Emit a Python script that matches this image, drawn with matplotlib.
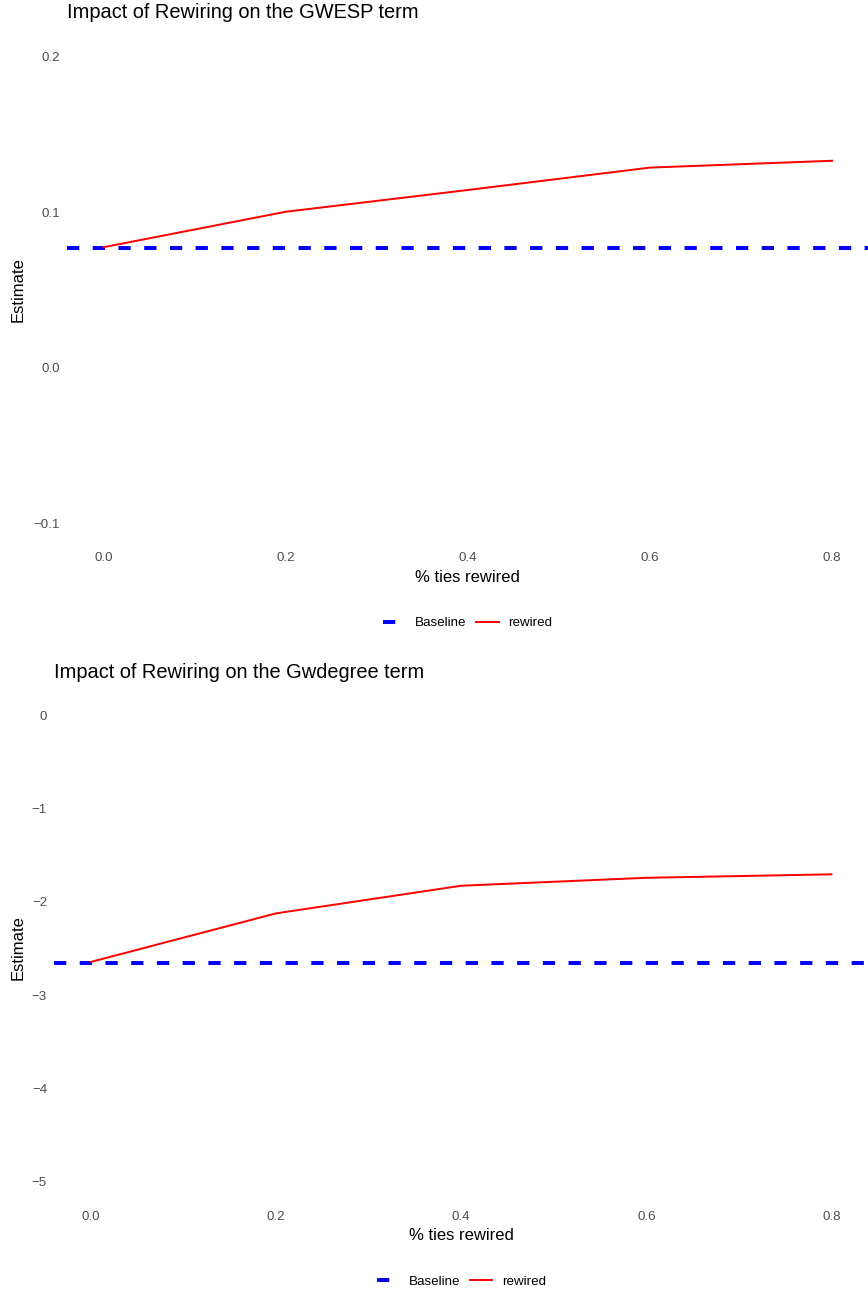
import matplotlib
matplotlib.use("Agg")
import matplotlib.pyplot as plt
from matplotlib.lines import Line2D

plt.rcParams["font.family"] = ["Liberation Sans", "DejaVu Sans"]

# Share of ties rewired
rewire_pct = [0.0, 0.2, 0.4, 0.6, 0.8]
x_ticks = [0.0, 0.2, 0.4, 0.6, 0.8]
x_ticklabels = ["0.0", "0.2", "0.4", "0.6", "0.8"]

# GWESP estimates
gwesp_rewired = [0.0775, 0.1003, 0.1143, 0.1287, 0.1331]
gwesp_baseline = 0.0767
gwesp_yticks = [-0.1, 0.0, 0.1, 0.2]
gwesp_yticklabels = ["\u22120.1", "0.0", "0.1", "0.2"]

# Gwdegree estimates
gwdeg_rewired = [-2.645, -2.125, -1.829, -1.744, -1.707]
gwdeg_baseline = -2.661
gwdeg_yticks = [-5, -4, -3, -2, -1, 0]
gwdeg_yticklabels = ["\u22125", "\u22124", "\u22123", "\u22122", "\u22121", "0"]

W, H = 868, 1291
fig = plt.figure(figsize=(W / 100, H / 100), dpi=100)
fig.patch.set_facecolor("white")

GREY30 = "#4D4D4D"
BASE_DASH = (3.1, 3.4)
TITLE_FS = 14.4
AXTITLE_FS = 12
TICK_FS = 9.6
LEGEND_FS = 9.6


def px_rect(left, top, right, bottom):
    return [left / W, 1 - bottom / H, (right - left) / W, (bottom - top) / H]


def draw_panel(box, title, title_y, ylab_y, xlab_y, leg_y, values, baseline,
               yticks, yticklabels, ylim):
    left, top, right, bottom = box
    ax = fig.add_axes(px_rect(left, top, right, bottom))
    ax.axhline(baseline, color="blue", lw=2.85, dashes=BASE_DASH,
               dash_capstyle="butt")
    ax.plot(rewire_pct, values, color="red", lw=1.42,
            solid_joinstyle="round")
    ax.set_xlim(-0.04, 0.84)
    ax.set_ylim(*ylim)
    ax.set_xticks(x_ticks)
    ax.set_xticklabels(x_ticklabels)
    ax.set_yticks(yticks)
    ax.set_yticklabels(yticklabels)
    ax.tick_params(axis="both", length=0, labelsize=TICK_FS,
                   labelcolor=GREY30)
    ax.tick_params(axis="y", pad=5.0)
    ax.tick_params(axis="x", pad=4.0)
    for s in ax.spines.values():
        s.set_visible(False)
    ax.grid(False)

    cx = (left + right) / 2 / W
    fig.text(left / W, 1 - title_y / H, title, fontsize=TITLE_FS,
             color="black", ha="left", va="center")
    fig.text(cx, 1 - xlab_y / H, "% ties rewired", fontsize=AXTITLE_FS,
             color="black", ha="center", va="center")
    fig.text(18 / W, 1 - ylab_y / H, "Estimate", fontsize=AXTITLE_FS,
             color="black", ha="center", va="center", rotation=90)

    handles = [
        Line2D([], [], color="blue", lw=2.85, dashes=BASE_DASH,
               dash_capstyle="butt"),
        Line2D([], [], color="red", lw=1.42),
    ]
    fig.legend(handles, ["Baseline", "rewired"], loc="center",
               bbox_to_anchor=(cx, 1 - leg_y / H), ncol=2, frameon=False,
               fontsize=LEGEND_FS, handlelength=1.7, handletextpad=0.7,
               columnspacing=0.7, borderpad=0, borderaxespad=0)
    return ax


draw_panel((67, 33.4, 868.5, 546.6), "Impact of Rewiring on the GWESP term",
           13, 290, 577, 623, gwesp_rewired, gwesp_baseline,
           gwesp_yticks, gwesp_yticklabels, (-0.115, 0.215))

draw_panel((54, 691.7, 868.5, 1205), "Impact of Rewiring on the Gwdegree term",
           672, 948, 1235, 1281.7, gwdeg_rewired, gwdeg_baseline,
           gwdeg_yticks, gwdeg_yticklabels, (-5.25, 0.25))

fig.savefig("out.png", dpi=100, facecolor="white")
